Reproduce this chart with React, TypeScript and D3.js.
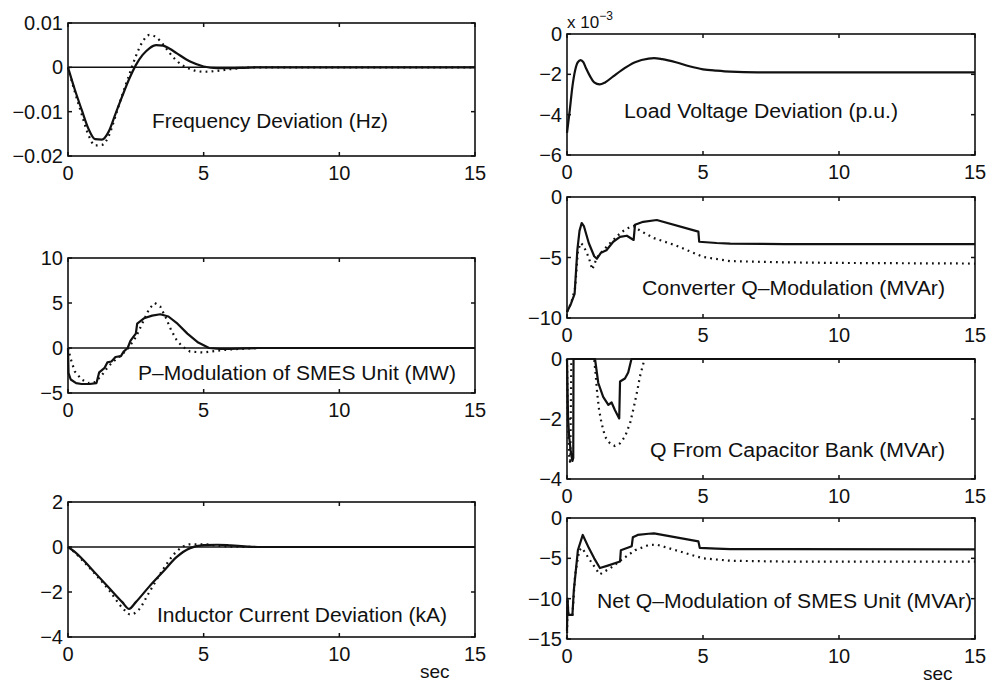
import React from "react";
import * as d3 from "d3";

// ---- data (time in sec) ----
const xTicks = [0, 5, 10, 15];

const freqT = [0, 0.25, 0.5, 0.75, 1, 1.25, 1.5, 1.75, 2, 2.25, 2.5, 2.75, 3, 3.25, 3.5, 3.75, 4, 4.5, 5, 5.5, 6, 6.5, 7, 15];
const freqSolid = [0, -0.005, -0.0095, -0.0138, -0.0162, -0.0163, -0.0145, -0.0105, -0.0065, -0.0027, 0.0005, 0.0028, 0.0043, 0.005, 0.0049, 0.0042, 0.0032, 0.0013, 0.0002, -0.0002, -0.0002, -0.0001, 0, 0];
const freqDotted = [0, -0.0055, -0.0105, -0.0152, -0.0176, -0.0175, -0.0155, -0.011, -0.0062, -0.0018, 0.0025, 0.0058, 0.0073, 0.0068, 0.0052, 0.0032, 0.0015, -0.0004, -0.001, -0.0008, -0.0004, -0.0001, 0, 0];

const pSolidT = [0, 0.02, 0.1, 0.3, 0.5, 0.8, 1.05, 1.15, 1.35, 1.45, 1.6, 1.75, 1.95, 2.05, 2.2, 2.3, 2.4, 2.5, 2.55, 2.8, 3.1, 3.4, 3.7, 4.0, 4.4, 4.8, 5.2, 5.6, 6.0, 6.5, 7, 15];
const pSolid = [0, -2.8, -3.5, -3.9, -4.0, -4.0, -3.9, -2.7, -2.2, -1.6, -1.5, -1.0, -0.9, -0.4, 0.0, 0.8, 1.2, 1.6, 2.7, 3.3, 3.6, 3.75, 3.5, 2.8, 1.6, 0.6, 0.0, -0.1, -0.1, -0.05, 0, 0];
const pDotT = [0, 0.1, 0.25, 0.5, 0.75, 1.0, 1.25, 1.5, 1.75, 2.0, 2.25, 2.5, 2.75, 3.0, 3.2, 3.4, 3.6, 3.8, 4.0, 4.2, 4.5, 5.0, 5.5, 6.0, 7.0, 15];
const pDotted = [0, -1.2, -2.6, -3.5, -3.9, -3.8, -3.0, -2.0, -1.3, -0.7, 0.1, 1.2, 2.8, 4.4, 5.0, 4.6, 3.4, 2.0, 0.9, 0.2, -0.4, -0.5, -0.3, -0.15, 0, 0];

const indT = [0, 0.25, 0.5, 1, 1.5, 2, 2.25, 2.5, 3, 3.5, 4, 4.5, 5, 5.5, 6, 6.5, 7, 15];
const indSolid = [0, -0.22, -0.5, -1.15, -1.8, -2.45, -2.75, -2.45, -1.75, -1.1, -0.45, -0.05, 0.08, 0.1, 0.07, 0.03, 0, 0];
const indDotT = [0, 0.25, 0.5, 1, 1.5, 2, 2.3, 2.6, 3, 3.5, 4, 4.5, 5, 5.5, 6, 7, 15];
const indDotted = [0, -0.25, -0.55, -1.2, -1.9, -2.7, -3.0, -2.8, -2.0, -1.0, -0.2, 0.12, 0.12, 0.06, 0.02, 0, 0];

const voltT = [0, 0.1, 0.2, 0.3, 0.4, 0.5, 0.6, 0.7, 0.85, 1.0, 1.2, 1.4, 1.7, 2.0, 2.5, 3.0, 3.2, 3.5, 4.0, 4.5, 5.0, 5.5, 6, 7, 8, 10, 15];
const voltSolid = [-4.9, -3.8, -2.6, -1.8, -1.4, -1.3, -1.4, -1.7, -2.1, -2.4, -2.5, -2.4, -2.1, -1.8, -1.4, -1.22, -1.2, -1.25, -1.4, -1.6, -1.75, -1.82, -1.87, -1.9, -1.9, -1.9, -1.9];

const convT = [0, 0.15, 0.28, 0.38, 0.46, 0.54, 0.62, 0.8, 1.0, 1.1, 1.25, 1.45, 1.7, 1.95, 2.2, 2.45, 2.5, 2.8, 3.3, 4.83, 4.86, 5.5, 6, 8, 15];
const convSolid = [-9.5, -8.8, -8.0, -4.4, -2.8, -2.15, -2.4, -3.8, -4.9, -5.1, -4.6, -4.4, -3.7, -3.3, -3.2, -3.55, -2.3, -2.05, -1.9, -2.86, -3.7, -3.8, -3.85, -3.9, -3.9];
const convDotT = [0, 0.15, 0.3, 0.4, 0.5, 0.6, 0.8, 0.93, 1.1, 1.5, 2.0, 2.3, 2.45, 2.7, 3.2, 4.0, 5.0, 6.0, 8, 10, 15];
const convDotted = [-9.5, -8.8, -7.5, -4.5, -3.8, -4.0, -5.0, -6.0, -5.0, -4.0, -2.9, -2.5, -2.4, -2.8, -3.4, -4.0, -4.95, -5.3, -5.4, -5.45, -5.5];

const capT = [0, 0.04, 0.08, 0.14, 0.2, 0.23, 0.24, 1.03, 1.15, 1.33, 1.52, 1.64, 1.76, 1.92, 1.95, 2.13, 2.25, 2.37, 15];
const capSolid = [0, -2.0, -2.6, -3.1, -3.4, -3.3, 0, 0, -0.8, -1.26, -1.53, -1.45, -1.7, -1.98, -0.75, -0.65, -0.45, 0, 0];
const capDotT = [0, 0.03, 0.08, 0.12, 0.16, 1.0, 1.05, 1.11, 1.18, 1.27, 1.4, 1.58, 1.76, 1.95, 2.13, 2.32, 2.46, 2.59, 2.68, 2.81, 2.86, 15];
const capDotted = [0, -2.0, -3.2, -3.5, 0, 0, -0.48, -1.14, -1.7, -2.14, -2.59, -2.81, -2.9, -2.81, -2.59, -2.14, -1.59, -1.03, -0.59, -0.14, 0, 0];

const netT = [0, 0.02, 0.05, 0.2, 0.25, 0.4, 0.58, 0.8, 1.0, 1.21, 1.5, 1.95, 1.98, 2.38, 2.42, 2.6, 3.0, 3.2, 4.83, 4.88, 5.5, 6, 8, 15];
const netSolid = [-14, -10, -12, -12, -9, -4, -2.1, -3.7, -5.0, -6.2, -5.9, -5.4, -4.0, -3.5, -2.4, -2.1, -1.95, -1.9, -2.9, -3.7, -3.8, -3.85, -3.85, -3.9];
const netDotT = [0, 0.02, 0.05, 0.2, 0.3, 0.45, 0.55, 0.8, 1.2, 1.6, 2.0, 2.5, 3.0, 3.3, 4.0, 5.0, 6.0, 8, 15];
const netDotted = [-15, -10, -12, -12, -7, -4, -3.7, -5.0, -7.0, -6.2, -5.2, -4.0, -3.35, -3.3, -4.0, -5.0, -5.3, -5.4, -5.4];

const zip = (t: number[], v: number[]) => t.map((x, i) => [x, v[i]] as [number, number]);

// panel layout (pixel boxes)
const panels = [
  { x0: 68, x1: 475, y0: 23, y1: 156, dom: [-0.02, 0.01], yt: [0.01, 0, -0.01, -0.02],
    zero: true, smooth: true, label: "Frequency Deviation (Hz)", lx: 152, ly: 128, lw: 236,
    solid: zip(freqT, freqSolid), dotted: zip(freqT, freqDotted) },
  { x0: 68, x1: 475, y0: 258, y1: 393, dom: [-5, 10], yt: [10, 5, 0, -5], zero: true, smooth: false,
    label: "P\u2013Modulation of SMES Unit (MW)", lx: 138, ly: 380, lw: 318,
    solid: zip(pSolidT, pSolid), dotted: zip(pDotT, pDotted) },
  { x0: 68, x1: 475, y0: 502, y1: 637, dom: [-4, 2], yt: [2, 0, -2, -4], zero: true, smooth: true,
    label: "Inductor Current Deviation (kA)", lx: 157, ly: 622, lw: 290,
    solid: zip(indT, indSolid), dotted: zip(indDotT, indDotted), sec: [420, 678] },
  { x0: 567, x1: 975, y0: 34, y1: 155, dom: [-6, 0], yt: [0, -2, -4, -6], zero: false, smooth: true,
    label: "Load Voltage Deviation (p.u.)", lx: 624, ly: 118, lw: 274,
    solid: zip(voltT, voltSolid), dotted: null, exp: true },
  { x0: 567, x1: 975, y0: 197, y1: 318, dom: [-10, 0], yt: [0, -5, -10], zero: false, smooth: false,
    label: "Converter Q\u2013Modulation (MVAr)", lx: 642, ly: 295, lw: 303,
    solid: zip(convT, convSolid), dotted: zip(convDotT, convDotted) },
  { x0: 567, x1: 975, y0: 359, y1: 479, dom: [-4, 0], yt: [0, -2, -4], zero: false, smooth: false,
    label: "Q From Capacitor Bank (MVAr)", lx: 650, ly: 457, lw: 295,
    solid: zip(capT, capSolid), dotted: zip(capDotT, capDotted) },
  { x0: 567, x1: 975, y0: 518, y1: 639, dom: [-15, 0], yt: [0, -5, -10, -15], zero: false, smooth: false,
    label: "Net Q\u2013Modulation of SMES Unit (MVAr)", lx: 597, ly: 608, lw: 375,
    solid: zip(netT, netSolid), dotted: zip(netDotT, netDotted), sec: [923, 680] },
];

const ink = "#111";
const font = "'Liberation Sans', Arial, Helvetica, sans-serif";
const minus = (s: string) => s.replace("-", "\u2212");

export default function App() {
  const svgRef = React.useRef<SVGSVGElement>(null);

  React.useEffect(() => {
    const svg = d3.select(svgRef.current);
    svg.selectAll("*").remove();

    panels.forEach((p: any) => {
      const x = d3.scaleLinear().domain([0, 15]).range([p.x0, p.x1]);
      const y = d3.scaleLinear().domain(p.dom).range([p.y1, p.y0]);
      const g = svg.append("g");

      const line = d3
        .line<[number, number]>()
        .x((d) => x(d[0]))
        .y((d) => y(d[1]))
        .curve(p.smooth ? d3.curveMonotoneX : d3.curveLinear);

      if (p.zero) {
        g.append("line")
          .attr("x1", x(0)).attr("x2", x(15))
          .attr("y1", y(0)).attr("y2", y(0))
          .attr("stroke", ink).attr("stroke-width", 1.5);
      }

      if (p.dotted) {
        g.append("path")
          .attr("d", line(p.dotted))
          .attr("fill", "none")
          .attr("stroke", ink)
          .attr("stroke-width", 2.2)
          .attr("stroke-dasharray", "1.8 4.2");
      }
      g.append("path")
        .attr("d", line(p.solid))
        .attr("fill", "none")
        .attr("stroke", ink)
        .attr("stroke-width", 2.2)
        .attr("stroke-linejoin", "round");

      /* box */
      g.append("rect")
        .attr("x", p.x0).attr("y", p.y0)
        .attr("width", p.x1 - p.x0).attr("height", p.y1 - p.y0)
        .attr("fill", "none").attr("stroke", ink).attr("stroke-width", 1.6);

      /* inward ticks on all sides */
      xTicks.forEach((t) => {
        [[p.y1, -4], [p.y0, 4]].forEach(([yy, dy]) => {
          g.append("line")
            .attr("x1", x(t)).attr("x2", x(t))
            .attr("y1", yy).attr("y2", yy + dy)
            .attr("stroke", ink).attr("stroke-width", 1.5);
        });
        g.append("text")
          .attr("x", x(t)).attr("y", p.y1 + 17)
          .attr("text-anchor", "middle").attr("dominant-baseline", "central")
          .attr("font-family", font).attr("font-size", 20).attr("fill", ink)
          .text(t);
      });
      p.yt.forEach((v: number) => {
        [[p.x0, 4], [p.x1, -4]].forEach(([xx, dx]) => {
          g.append("line")
            .attr("x1", xx).attr("x2", xx + dx)
            .attr("y1", y(v)).attr("y2", y(v))
            .attr("stroke", ink).attr("stroke-width", 1.5);
        });
        g.append("text")
          .attr("x", p.x0 - 5).attr("y", y(v))
          .attr("text-anchor", "end").attr("dominant-baseline", "central")
          .attr("font-family", font).attr("font-size", 20).attr("fill", ink)
          .text(minus(String(v)));
      });

      g.append("text")
        .attr("x", p.lx).attr("y", p.ly)
        .attr("font-family", font).attr("font-size", 20).attr("fill", ink)
        .attr("textLength", p.lw).attr("lengthAdjust", "spacingAndGlyphs")
        .text(p.label);

      if (p.exp) {
        const t = g.append("text")
          .attr("x", p.x0).attr("y", p.y0 - 6)
          .attr("font-family", font).attr("font-size", 17).attr("fill", ink);
        t.append("tspan").text("x 10");
        t.append("tspan").attr("dy", -8).attr("font-size", 12).text("\u22123");
      }
      if (p.sec) {
        g.append("text")
          .attr("x", p.sec[0]).attr("y", p.sec[1])
          .attr("font-family", font).attr("font-size", 19).attr("fill", ink)
          .text("sec");
      }
    });
  }, []);

  return (
    <svg
      ref={svgRef}
      width={994}
      height={686}
      style={{ position: "absolute", left: 0, top: 0, background: "#fff" }}
    />
  );
}
